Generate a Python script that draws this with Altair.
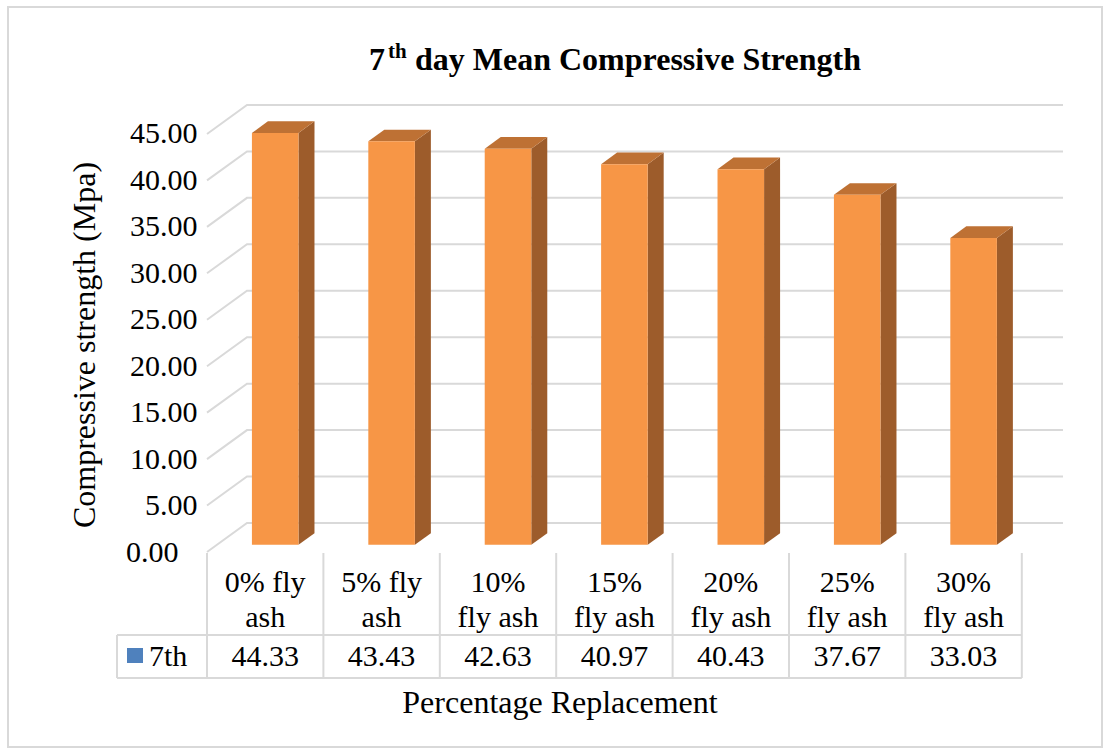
import altair as alt
import pandas as pd

# ---- data -------------------------------------------------------------
categories = ["0% fly ash", "5% fly ash", "10% fly ash", "15% fly ash",
              "20% fly ash", "25% fly ash", "30% fly ash"]
category_lines = ["0% fly\nash", "5% fly\nash", "10%\nfly ash", "15%\nfly ash",
                  "20%\nfly ash", "25%\nfly ash", "30%\nfly ash"]
strength = [44.33, 43.43, 42.63, 40.97, 40.43, 37.67, 33.03]
series_name = "7th"
y_ticks = [0, 5, 10, 15, 20, 25, 30, 35, 40, 45]

# ---- geometry of the pseudo-3D box ------------------------------------
W, H = 856, 447              # plot area (front floor edge at the bottom)
PX_PER_CAT = 116.4           # width of one category column
PX_PER_UNIT = 9.29           # pixels per MPa
DEPTH_X = 40 / PX_PER_CAT    # back wall offset, in category units
DEPTH_Y = 29 / PX_PER_UNIT   # back wall offset, in MPa units
X_MAX = W / PX_PER_CAT
Y_MAX = H / PX_PER_UNIT
BAR_FRONT, BAR_BACK = 0.25, 0.65   # bar depth as fraction of box depth
BAR_LO, BAR_HI = 0.30, 0.70        # bar extent inside its column

FONT = "Liberation Serif"
GRID = "#D9D9D9"
FRONT_C, TOP_C, SIDE_C = "#F79646", "#BE7134", "#9D5C2B"

x_scale = alt.Scale(domain=[0, X_MAX], nice=False, zero=False)
y_scale = alt.Scale(domain=[0, Y_MAX], nice=False, zero=False)

y_axis = alt.Axis(
    values=y_ticks, format=".2f", title=None, grid=False, domain=False,
    ticks=False, labelFont=FONT, labelFontSize=30, labelColor="black",
    labelOverlap=False,
    labelPadding={"condition": {"test": "datum.value === 0", "value": 29}, "value": 10},
)


def X(field):
    return alt.X(field, type="quantitative", scale=x_scale, axis=None)


def Y(field):
    return alt.Y(field, type="quantitative", scale=y_scale, axis=y_axis)


# ---- gridlines: left wall diagonal + back wall horizontal -------------
grid_rows = []
for v in y_ticks:
    grid_rows += [
        {"level": v, "k": 0, "gx": 0.0, "gy": v},
        {"level": v, "k": 1, "gx": DEPTH_X, "gy": v + DEPTH_Y},
        {"level": v, "k": 2, "gx": X_MAX, "gy": v + DEPTH_Y},
    ]
grid_df = pd.DataFrame(grid_rows)
grid = alt.Chart(grid_df).mark_line(color=GRID, strokeWidth=2).encode(
    x=X("gx"), y=Y("gy"), detail="level:N", order="k:Q"
)

# ---- bars ---------------------------------------------------------------
front_rows, side_rows, top_rows = [], [], []
for i, (c, v) in enumerate(zip(categories, strength)):
    front_rows.append({
        "cat": c,
        "x0": i + BAR_LO + BAR_FRONT * DEPTH_X,
        "x1": i + BAR_HI + BAR_FRONT * DEPTH_X,
        "y0": BAR_FRONT * DEPTH_Y,
        "y1": v + BAR_FRONT * DEPTH_Y,
    })
    for f in (BAR_FRONT, BAR_BACK):
        side_rows.append({
            "cat": c,
            "sx": i + BAR_HI + f * DEPTH_X,
            "sy": v + f * DEPTH_Y,
            "sy2": f * DEPTH_Y,
        })
        top_rows.append({
            "cat": c,
            "ty": v + f * DEPTH_Y,
            "tx": i + BAR_LO + f * DEPTH_X,
            "tx2": i + BAR_HI + f * DEPTH_X,
        })

side = alt.Chart(pd.DataFrame(side_rows)).mark_area(color=SIDE_C, opacity=1).encode(
    x=X("sx"), y=Y("sy"), y2="sy2", detail="cat:N"
)
top = alt.Chart(pd.DataFrame(top_rows)).mark_area(
    color=TOP_C, opacity=1, orient="horizontal"
).encode(
    y=Y("ty"), x=X("tx"), x2="tx2", detail="cat:N"
)
front = alt.Chart(pd.DataFrame(front_rows)).mark_rect(color=FRONT_C).encode(
    x=X("x0"), x2="x1", y=Y("y0"), y2="y1"
)

# ---- data table under the plot --------------------------------------------
table_df = pd.DataFrame({
    "cat": categories,
    "label": category_lines,
    "value": strength,
    "mid": [i + 0.5 for i in range(len(categories))],
})
cols_df = pd.DataFrame({"edge": list(range(len(categories) + 1))})

col_lines = alt.Chart(cols_df).mark_rule(color=GRID, strokeWidth=2).encode(
    x=X("edge"), y=alt.value(448), y2=alt.value(573)
)
row_lines = alt.Chart(pd.DataFrame({"ry": [530, 573]})).mark_rule(
    color=GRID, strokeWidth=2
).encode(
    x=alt.value(-90), x2=alt.value(len(categories) * PX_PER_CAT), y=alt.Y("ry:Q", scale=None)
)
legend_edge = alt.Chart(pd.DataFrame({"a": [0]})).mark_rule(
    color=GRID, strokeWidth=2
).encode(x=alt.value(-90), y=alt.value(530), y2=alt.value(573))

cat_text = alt.Chart(table_df).mark_text(
    font=FONT, fontSize=30, color="black", lineBreak="\n", lineHeight=35,
    baseline="alphabetic", align="center"
).encode(x=X("mid"), y=alt.value(487), text="label:N")

val_text = alt.Chart(table_df).mark_text(
    font=FONT, fontSize=30, color="black", baseline="alphabetic", align="center"
).encode(x=X("mid"), y=alt.value(561), text=alt.Text("value:Q", format=".2f"))

key_box = alt.Chart(pd.DataFrame({"s": [series_name]})).mark_rect(color="#4F81BD").encode(
    x=alt.value(-80), x2=alt.value(-64), y=alt.value(543), y2=alt.value(558)
)
key_text = alt.Chart(pd.DataFrame({"s": [series_name]})).mark_text(
    font=FONT, fontSize=30, color="black", baseline="alphabetic", align="left"
).encode(x=alt.value(-58), y=alt.value(561), text="s:N")

# ---- titles -------------------------------------------------------------
def label(txt, x, y, size=32, weight="normal", angle=0, align="left", baseline="alphabetic"):
    return alt.Chart(pd.DataFrame({"t": [txt]})).mark_text(
        font=FONT, fontSize=size, fontWeight=weight, color="black",
        angle=angle, align=align, baseline=baseline
    ).encode(x=alt.value(x), y=alt.value(y), text="t:N")

title_7 = label("7", 162, -35, weight="bold")
title_th = label("th", 181, -47, size=21, weight="bold")
title_rest = label("day Mean Compressive Strength", 208, -35, weight="bold")
y_title = label("Compressive strength (Mpa)", -122, 240, angle=270,
                align="center", baseline="middle")
x_title = label("Percentage Replacement", 353, 598, align="center", baseline="middle")

frame = alt.Chart(pd.DataFrame({"a": [0]})).mark_rect(
    fill=None, stroke=GRID, strokeWidth=2
).encode(x=alt.value(-199), x2=alt.value(895), y=alt.value(-98), y2=alt.value(642))

chart = alt.layer(
    frame, grid, side, top, front,
    col_lines, row_lines, legend_edge, cat_text, val_text, key_box, key_text,
    title_7, title_th, title_rest, y_title, x_title,
).properties(
    width=W, height=H,
    autosize=alt.AutoSizeParams(type="none"),
    padding={"left": 207, "top": 105, "right": 47, "bottom": 202},
    background="white",
).configure_view(stroke=None)

chart.save("out.html", embed_options={"renderer": "svg", "actions": False})
